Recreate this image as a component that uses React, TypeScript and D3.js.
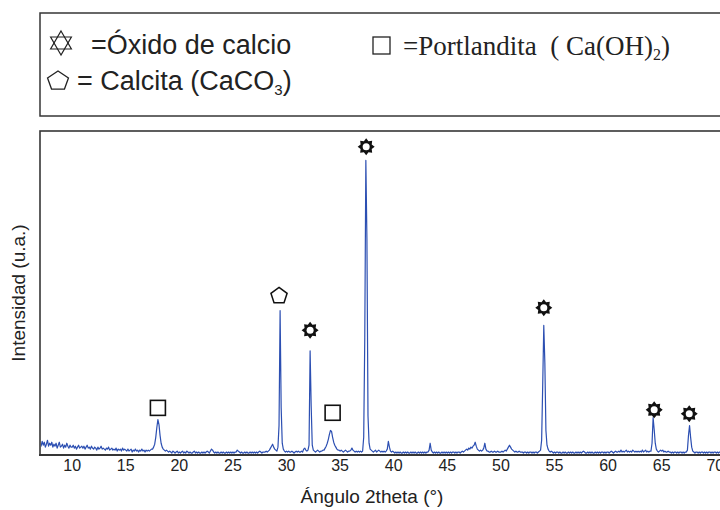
import * as d3 from 'd3'
import { useEffect, useRef } from 'react'

// difractograma: intensidad cada 0.1° desde 7°
const startAngle = 7
const stepAngle = 0.1

// 7.0 - 19.9
const scan07to20 = [
  12, 9, 14, 10, 13, 8, 11, 15, 9, 12,
  10, 13, 8, 11, 9, 12, 7, 10, 13, 8,
  9, 11, 7, 10, 8, 12, 9, 7, 10, 8,
  8, 10, 7, 9, 6, 8, 10, 7, 8, 9,
  7, 9, 6, 8, 10, 7, 8, 6, 9, 7,
  6, 8, 7, 5, 8, 6, 7, 9, 6, 7,
  6, 5, 7, 6, 8, 5, 6, 7, 5, 6,
  5, 7, 4, 6, 5, 6, 4, 7, 5, 6,
  5, 4, 6, 4, 5, 6, 3, 5, 4, 6,
  4, 5, 3, 5, 4, 6, 4, 5, 3, 5,
  4, 5, 4, 5, 6, 6, 8, 11, 18, 28,
  36, 31, 20, 12, 8, 6, 5, 4, 5, 4,
  3, 4, 3, 2, 4, 3, 2, 3, 4, 2,
]
// 20.0 - 32.9
const scan20to33 = [
  3, 2, 3, 4, 2, 3, 2, 4, 3, 2,
  3, 2, 2, 3, 4, 2, 3, 2, 3, 2,
  2, 3, 2, 3, 2, 3, 4, 3, 2, 4,
  6, 5, 3, 2, 3, 2, 3, 2, 2, 3,
  2, 3, 2, 2, 3, 2, 3, 2, 3, 2,
  3, 2, 3, 3, 5, 4, 3, 2, 3, 2,
  2, 3, 2, 3, 2, 2, 3, 2, 3, 2,
  3, 2, 3, 2, 3, 4, 3, 2, 3, 3,
  3, 4, 3, 4, 5, 7, 9, 11, 8, 6,
  5, 4, 8, 30, 147, 48, 12, 6, 4, 3,
  4, 3, 4, 3, 3, 4, 3, 2, 3, 4,
  3, 4, 3, 3, 4, 3, 6, 7, 5, 4,
  5, 10, 106, 50, 10, 5, 4, 3, 4, 5,
]
// 33.0 - 45.9
const scan33to46 = [
  4, 3, 4, 4, 5, 5, 7, 9, 12, 16,
  21, 25, 24, 18, 13, 10, 8, 6, 5, 5,
  4, 5, 4, 3, 4, 5, 4, 3, 4, 4,
  5, 7, 5, 4, 3, 4, 3, 4, 3, 4,
  3, 4, 18, 120, 300, 220, 40, 12, 6, 5,
  4, 3, 4, 5, 3, 4, 5, 4, 3, 4,
  3, 4, 3, 4, 6, 14, 8, 4, 3, 4,
  3, 2, 3, 2, 3, 2, 3, 2, 2, 3,
  2, 3, 2, 3, 2, 2, 3, 2, 3, 2,
  3, 2, 2, 3, 2, 3, 2, 3, 2, 3,
  2, 3, 3, 5, 12, 5, 3, 2, 3, 2,
  3, 2, 3, 2, 2, 3, 2, 3, 2, 3,
  2, 3, 2, 3, 2, 3, 3, 2, 3, 2,
]
// 46.0 - 58.9
const scan46to59 = [
  3, 3, 2, 3, 4, 3, 4, 5, 6, 5,
  7, 6, 8, 7, 9, 10, 13, 9, 6, 5,
  4, 5, 4, 5, 7, 12, 6, 4, 4, 3,
  3, 4, 3, 3, 4, 3, 3, 4, 3, 3,
  3, 4, 3, 4, 5, 4, 6, 8, 10, 8,
  6, 5, 4, 3, 4, 3, 3, 4, 3, 3,
  3, 2, 3, 3, 2, 3, 2, 3, 3, 2,
  3, 2, 3, 3, 2, 3, 4, 5, 15, 71,
  132, 94, 25, 10, 6, 4, 3, 4, 3, 2,
  3, 2, 3, 3, 2, 3, 2, 2, 3, 2,
  3, 2, 2, 3, 2, 3, 2, 3, 2, 2,
  3, 2, 3, 2, 3, 2, 3, 4, 3, 2,
  2, 3, 2, 3, 2, 3, 2, 2, 3, 2,
]
// 59.0 - 71.0
const scan59to71 = [
  3, 2, 3, 2, 3, 3, 2, 3, 2, 3,
  3, 2, 3, 4, 3, 2, 3, 4, 3, 3,
  4, 3, 5, 3, 4, 3, 4, 5, 3, 4,
  3, 4, 3, 5, 4, 3, 4, 3, 4, 3,
  4, 3, 5, 3, 4, 5, 3, 4, 3, 4,
  4, 12, 38, 26, 12, 6, 4, 3, 4, 5,
  4, 5, 3, 4, 3, 3, 4, 3, 3, 2,
  3, 2, 3, 3, 2, 3, 2, 3, 3, 2,
  3, 2, 3, 3, 5, 20, 30, 18, 8, 4,
  3, 2, 3, 3, 2, 3, 2, 3, 3, 2,
  3, 2, 3, 2, 3, 3, 2, 3, 2, 3,
  3, 2, 3, 2, 3, 3, 2, 3, 2, 3,
  3,
]

const xTicks = [10, 15, 20, 25, 30, 35, 40, 45, 50, 55, 60, 65, 70]

// fase, ángulo, nivel del símbolo (u.a.)
const markers: [string, number, number][] = [
  ['portlandita', 18.0, 48],
  ['calcita', 29.3, 162],
  ['oxido', 32.2, 127],
  ['portlandita', 34.3, 43],
  ['oxido', 37.43, 314],
  ['oxido', 54.0, 150],
  ['oxido', 64.3, 46],
  ['oxido', 67.57, 42],
]

const sans = '"Liberation Sans", Arial, sans-serif'
const serif = '"Liberation Serif", "Times New Roman", serif'
const ink = '#222'
const frame = '#363636'

function starPath(cx: number, cy: number, R: number, r: number, n: number) {
  const pts: [number, number][] = []
  for (let i = 0; i < n * 2; i++) {
    const a = (Math.PI * i) / n - Math.PI / 2
    const rad = i % 2 === 0 ? R : r
    pts.push([cx + rad * Math.cos(a), cy + rad * Math.sin(a)])
  }
  return 'M' + pts.map(p => p.join(',')).join('L') + 'Z'
}

function pentagonPath(cx: number, cy: number, rx: number, ry: number) {
  const pts: [number, number][] = []
  for (let i = 0; i < 5; i++) {
    const a = (2 * Math.PI * i) / 5 - Math.PI / 2
    pts.push([cx + rx * Math.cos(a), cy + ry * Math.sin(a)])
  }
  return 'M' + pts.map(p => p.join(',')).join('L') + 'Z'
}

function polyPath(cx: number, cy: number, R: number, n: number, rot: number) {
  const pts: [number, number][] = []
  for (let i = 0; i < n; i++) {
    const a = (2 * Math.PI * i) / n + rot
    pts.push([cx + R * Math.cos(a), cy + R * Math.sin(a)])
  }
  return 'M' + pts.map(p => p.join(',')).join('L') + 'Z'
}

export default function App() {
  const svgRef = useRef<SVGSVGElement | null>(null)

  useEffect(() => {
    if (!svgRef.current)
      return

    const width = 720
    const height = 510
    const counts = [...scan07to20, ...scan20to33, ...scan33to46, ...scan46to59, ...scan59to71]

    const svg = d3.select(svgRef.current)
    svg.selectAll('*').remove()
    svg.attr('width', width).attr('height', height)

    svg.append('rect').attr('width', width).attr('height', height).attr('fill', '#fff')

    const x = d3.scaleLinear().domain([7, 71]).range([40, 726])
    const y = d3.scaleLinear().domain([0, 330]).range([455, 131])

    // leyenda
    const leg = svg.append('g')
    leg.append('rect')
      .attr('x', 40).attr('y', 13).attr('width', 700).attr('height', 103)
      .attr('fill', 'none').attr('stroke', frame).attr('stroke-width', 1.5)

    leg.append('path').attr('d', polyPath(61, 43, 12, 3, -Math.PI / 2))
      .attr('fill', 'none').attr('stroke', ink).attr('stroke-width', 1.2)
    leg.append('path').attr('d', polyPath(61, 43, 12, 3, Math.PI / 2))
      .attr('fill', 'none').attr('stroke', ink).attr('stroke-width', 1.2)
    leg.append('text').attr('x', 91).attr('y', 54)
      .attr('font-family', sans).attr('font-size', 27).attr('fill', ink)
      .text('=Óxido de calcio')

    leg.append('rect').attr('x', 373).attr('y', 37).attr('width', 17).attr('height', 17)
      .attr('fill', 'none').attr('stroke', ink).attr('stroke-width', 1.3)
    const tp = leg.append('text').attr('x', 403).attr('y', 55)
      .attr('font-family', serif).attr('font-size', 27).attr('fill', ink)
    tp.append('tspan').text('=Portlandita\u00a0 ( Ca(OH)')
    tp.append('tspan').attr('font-size', 16).attr('dy', 5).text('2')
    tp.append('tspan').attr('dy', -5).text(')')

    leg.append('path').attr('d', pentagonPath(58, 81, 11, 10))
      .attr('fill', 'none').attr('stroke', ink).attr('stroke-width', 1.3)
    const tc = leg.append('text').attr('x', 77).attr('y', 90)
      .attr('font-family', sans).attr('font-size', 27).attr('fill', ink)
    tc.append('tspan').text('= Calcita (CaCO')
    tc.append('tspan').attr('font-size', 15).attr('dy', 5).text('3')
    tc.append('tspan').attr('dy', -5).text(')')

    // marco del gráfico
    svg.append('rect')
      .attr('x', 40).attr('y', 131).attr('width', 700).attr('height', 324)
      .attr('fill', 'none').attr('stroke', frame).attr('stroke-width', 1.6)

    svg.append('clipPath').attr('id', 'plot-clip')
      .append('rect').attr('x', 41).attr('y', 132).attr('width', 700).attr('height', 322)

    const line = d3.line<number>()
      .x((_, i) => x(startAngle + i * stepAngle))
      .y(d => y(d))

    svg.append('path')
      .datum(counts)
      .attr('clip-path', 'url(#plot-clip)')
      .attr('d', line)
      .attr('fill', 'none')
      .attr('stroke', '#2c4fb2')
      .attr('stroke-width', 1.2)
      .attr('stroke-linejoin', 'round')

    // eje x
    svg.append('line')
      .attr('x1', 39).attr('x2', 740).attr('y1', 455).attr('y2', 455)
      .attr('stroke', frame).attr('stroke-width', 2.2)

    svg.append('g')
      .selectAll('text')
      .data(xTicks)
      .enter()
      .append('text')
      .attr('x', d => x(d))
      .attr('y', 471)
      .attr('text-anchor', 'middle')
      .attr('font-family', sans)
      .attr('font-size', 16)
      .attr('fill', ink)
      .text(d => d)

    svg.append('text')
      .attr('x', 372).attr('y', 503)
      .attr('text-anchor', 'middle')
      .attr('font-family', sans).attr('font-size', 19).attr('fill', ink)
      .text('Ángulo 2theta (°)')

    svg.append('text')
      .attr('transform', `translate(25,293) rotate(-90)`)
      .attr('text-anchor', 'middle')
      .attr('font-family', sans).attr('font-size', 19).attr('fill', ink)
      .text('Intensidad (u.a.)')

    // símbolos de fase
    const mk = svg.append('g')
    markers.forEach(([phase, angle, level]) => {
      const cx = x(angle)
      const cy = y(level)
      if (phase === 'oxido') {
        mk.append('path').attr('d', starPath(cx, cy, 8.5, 6, 8)).attr('fill', '#111')
        mk.append('circle').attr('cx', cx).attr('cy', cy).attr('r', 3.5).attr('fill', '#fff')
      }
      else if (phase === 'calcita') {
        mk.append('path').attr('d', pentagonPath(cx, cy, 8.5, 8.5))
          .attr('fill', 'none').attr('stroke', '#111').attr('stroke-width', 1.5)
      }
      else {
        mk.append('rect').attr('x', cx - 7.5).attr('y', cy - 7.5).attr('width', 15).attr('height', 15)
          .attr('fill', 'none').attr('stroke', '#111').attr('stroke-width', 1.6)
      }
    })
  }, [])

  return (
    <svg ref={svgRef} style={{ position: 'absolute', left: 0, top: 0, display: 'block' }}></svg>
  )
}
